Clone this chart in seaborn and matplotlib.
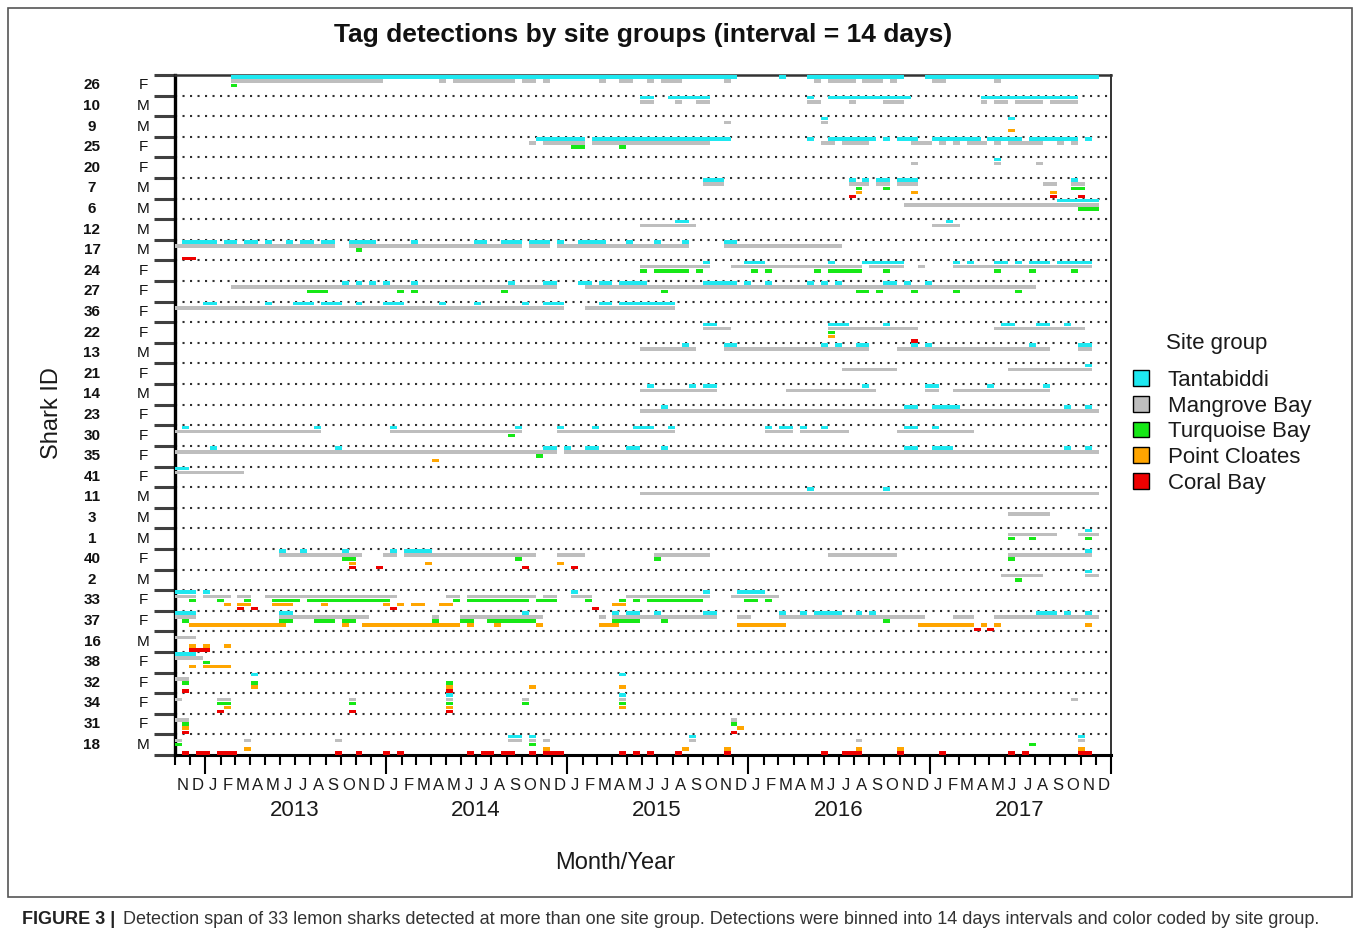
import numpy as np
import pandas as pd
import matplotlib
matplotlib.use("Agg")
import matplotlib.pyplot as plt
import matplotlib.dates as mdates
from matplotlib import transforms
from matplotlib.patches import Patch, Rectangle
import seaborn as sns

# ---------------- data ----------------
SHARKS = ["26", "10", "9", "25", "20", "7", "6", "12", "17", "24", "27", "36", "22", "13", "21",
          "14", "23", "30", "35", "41", "11", "3", "1", "40", "2", "33", "37", "16", "38", "32",
          "34", "31", "18"]
SEX = ["F", "M", "M", "F", "F", "M", "M", "M", "M", "F", "F", "F", "F", "M", "F",
       "M", "F", "F", "F", "F", "M", "M", "M", "F", "M", "F", "F", "M", "F", "F",
       "F", "F", "M"]
SITES = ["Tantabiddi", "Mangrove Bay", "Turquoise Bay", "Point Cloates", "Coral Bay"]
COLORS = ["#1EE8F0", "#BEBEBE", "#16E816", "#FFA500", "#EE0000"]
MONTH_LETTERS = ["N", "D", "J", "F", "M", "A", "M", "J", "J", "A", "S", "O"] * 5 + ["N", "D"]
YEARS = [2013, 2014, 2015, 2016, 2017]

# detections: 14-day bin runs ("a-b" inclusive) counted from 1 Nov 2012
TANTABIDDI = {
    "26": "8-80 87 91-104 108-132", "10": "67-68 71-76 91 94-105 116-129", "9": "93 120",
    "25": "52-58 60-79 91 94-100 102 104-106 109-115 117-121 123-129 131", "20": "118",
    "7": "76-78 97 99 101-102 104-106 129", "6": "127-132", "12": "72-73 111",
    "17": "1-5 7-8 10-11 13 16 18-19 21-22 25-28 34 43-44 47-49 51-53 55 58-61 65 69 73 79-80",
    "24": "76 82-84 94 99-104 112 114 118-119 121 123-125 127-131",
    "27": "24 26 28 30 34 48 53-54 58-59 61-62 64-67 76-80 82 85 91 93 95 102-103 105 108",
    "36": "4-5 13 17-19 21-23 26 30-32 38 43 50 53-55 61-62 64-71",
    "22": "76-77 94-96 102 119-120 124-125 128", "13": "73 79-80 93 95 98-99 106 108 123 130-131",
    "21": "131", "14": "68 74 76-77 99 108-109 117 125", "23": "70 105-106 109-112 128 131",
    "30": "1 20 31 49 55 60 66-68 71 85 87-88 90 93 105-106 109",
    "35": "5 23 53-54 56 59-60 65-66 70 105-106 109-111 128 131", "41": "0-1", "11": "91 102",
    "1": "131", "40": "15 18 24 31 33-36 131", "2": "131", "33": "0-2 4 57 76 81-84",
    "37": "0-2 15-16 50 63 65-66 69 76-77 87 90 92-95 98 100 124-126 128 131",
    "38": "0-2", "32": "11 64", "34": "39 64", "18": "48-49 51 74 130",
}
MANGROVE = {
    "26": "8-29 38 40-48 50-51 53 61 64-65 68 70-72 79 92 94-97 99-101 103 109-110 118",
    "10": "67-68 72 75-76 91-92 97 102-104 116 118-119 121-124 126-129", "9": "79 93",
    "25": "51 53-58 60-76 93-94 96-99 106-108 110 112 114-116 118 120-124 127 129",
    "20": "106 118 124", "7": "76-78 97-99 101-102 104-106 125-126 129-130", "6": "105-132",
    "12": "67-74 109-112", "17": "0-22 25-49 51-53 55-73 79-95",
    "24": "67-76 80-98 100-104 107 112-131", "27": "8-54 59-123", "36": "0-55 59-71",
    "22": "76-79 94-106 118-130", "13": "67-74 79-99 104-125 130-131", "21": "96-103 120-131",
    "14": "67-77 88-100 108-109 112-125", "23": "67-132",
    "30": "0-20 31-49 55-71 85-88 90-96 104-114", "35": "0-54 56-132", "41": "0-9",
    "11": "67-132", "3": "120-125", "1": "120-126 130-132",
    "40": "15-26 30-31 33-51 55-58 69-76 94-103 120-131", "2": "119-124 131-132",
    "33": "0-2 4-7 9-10 13-31 39-40 42-51 53-54 57-59 65-76 80-86",
    "37": "0-2 15-27 37 41-52 61 63-77 81-82 87-107 112-114 118-132",
    "16": "0-2", "38": "0-3", "32": "0-1", "34": "0 6-7 25 39 50 64 129", "31": "0-1 80",
    "18": "0 10 23 48-49 51 53 74 98 130",
}
TURQUOISE = {
    "26": "8", "25": "57-58 64", "7": "98 102 129-130", "6": "130-132", "17": "26",
    "24": "67 69-73 75 83 85 92 94-98 102 118 123 129",
    "27": "19-21 32 34 47 70 98-99 101 106 112 121", "22": "94", "30": "48", "35": "52",
    "1": "120 123 131", "40": "24-25 49 69 120", "2": "121",
    "33": "2 6 10 14-17 19-30 40 42-50 52-54 59 64 66 68-75 82-83 85",
    "37": "1 15-16 20-22 24-25 37 41-42 45-51 63-66 70 102",
    "38": "4", "32": "1 11 39", "34": "6-7 25 39 50 64", "31": "1 80", "18": "0 51 123",
}
CLOATES = {
    "9": "120", "7": "98 106 126", "22": "94", "35": "37", "40": "25 36 55",
    "33": "7 9-10 14-16 21 30 32 34-35 38-39 63-64",
    "37": "2-15 24 27-40 42 46 52 61-63 81-87 107-114 116 118 131",
    "16": "2 4 7", "38": "2 4-7", "32": "11 39 51 64", "34": "7 39 64", "31": "1 81",
    "18": "10 53 73 79 98 104 130",
}
CORAL = {
    "7": "97 126 130", "17": "1-2", "22": "106", "40": "25 29 50 57", "33": "9 11 31 60",
    "37": "115 117", "16": "2-4", "32": "1 39", "34": "6 25 39", "31": "1 80",
    "18": "1 3-4 6-8 23 26 30 32 42 44-45 47-48 51 53-55 64 66 68 72 79 93 96-98 104 110 120 122 130-131",
}

ORIGIN = pd.Timestamp("2012-11-01")
END = pd.Timestamp("2018-01-01")
BIN_DAYS = 14


def parse_runs(text):
    for tok in text.split():
        if "-" in tok:
            a, b = tok.split("-")
        else:
            a = b = tok
        yield int(a), int(b)


records = []
for level, (site, table) in enumerate(zip(SITES, [TANTABIDDI, MANGROVE, TURQUOISE, CLOATES, CORAL])):
    for shark, text in table.items():
        for a, b in parse_runs(text):
            records.append({
                "shark": shark, "site": site, "level": level,
                "start": ORIGIN + pd.Timedelta(days=BIN_DAYS * a),
                "end": ORIGIN + pd.Timedelta(days=BIN_DAYS * (b + 1)),
            })
df = pd.DataFrame(records)
row_of = {s: i for i, s in enumerate(SHARKS)}
df["row"] = df["shark"].map(row_of)
df["y"] = df["row"] + 0.1 + 0.2 * df["level"]
df["x0"] = mdates.date2num(df["start"])
df["w"] = mdates.date2num(df["end"]) - df["x0"]

# ---------------- figure ----------------
sns.set_theme(style="white")
plt.rcParams["font.family"] = ["Liberation Sans", "DejaVu Sans"]

W, H = 1355, 941
fig = plt.figure(figsize=(W / 100, H / 100), dpi=100)
fig.patch.set_facecolor("white")


def fx(px):
    return px / W


def fy(py):
    return 1 - py / H


ax = fig.add_axes([fx(175), fy(755), fx(1111) - fx(175), fy(75) - fy(755)])

palette = dict(zip(SITES, COLORS))
for site in SITES:
    sub = df[df["site"] == site]
    ax.barh(sub["y"], sub["w"], left=sub["x0"], height=0.17,
            color=palette[site], linewidth=0, zorder=3)

n = len(SHARKS)
for i in range(1, n):
    ax.axhline(i, color="#303030", linestyle=(0, (1.0, 2.6)), linewidth=1.5, zorder=2)

ax.set_xlim(mdates.date2num(ORIGIN), mdates.date2num(END))
ax.set_ylim(n, 0)

# y ticks at band boundaries
ax.set_yticks(np.arange(0, n + 1))
ax.set_yticklabels([])
ax.tick_params(axis="y", which="major", left=True, length=15, width=2.2, color="#404040")

# x ticks: monthly minor, yearly major
ax.xaxis.set_major_locator(mdates.YearLocator())
ax.xaxis.set_minor_locator(mdates.MonthLocator())
ax.xaxis.set_major_formatter(plt.NullFormatter())
ax.xaxis.set_minor_formatter(plt.NullFormatter())
ax.tick_params(axis="x", which="major", bottom=True, length=14, width=1.5, color="black")
ax.tick_params(axis="x", which="minor", bottom=True, length=7.5, width=1.5, color="black")

for side, lw in [("left", 2.4), ("bottom", 2.2), ("top", 1.8), ("right", 1.4)]:
    ax.spines[side].set_visible(True)
    ax.spines[side].set_linewidth(lw)
    ax.spines[side].set_color("black" if side in ("left", "bottom") else "#333333")
ax.grid(False)

# shark id / sex labels
trans_y = transforms.blended_transform_factory(fig.transFigure, ax.transData)
for i, (sid, sx) in enumerate(zip(SHARKS, SEX)):
    ax.text(fx(92), i + 0.5, sid, transform=trans_y, ha="center", va="center",
            fontsize=11, fontweight="bold", color="#111111")
    ax.text(fx(143), i + 0.5, sx, transform=trans_y, ha="center", va="center",
            fontsize=11, color="#111111")

# month letters and year labels
trans_x = transforms.blended_transform_factory(ax.transData, fig.transFigure)
month_starts = pd.date_range(ORIGIN, END, freq="MS")
for k, letter in enumerate(MONTH_LETTERS):
    mid = mdates.date2num(month_starts[k]) + (mdates.date2num(month_starts[k + 1]) - mdates.date2num(month_starts[k])) / 2
    ax.text(mid, fy(785), letter, transform=trans_x, ha="center", va="center",
            fontsize=12, color="#1a1a1a")
for yr in YEARS:
    ax.text(mdates.date2num(pd.Timestamp(f"{yr}-07-01")), fy(810), str(yr), transform=trans_x,
            ha="center", va="center", fontsize=16, color="#1a1a1a")

fig.text(fx(615), fy(863), "Month/Year", ha="center", va="center", fontsize=17, color="#1a1a1a")
fig.text(fx(52), fy(413), "Shark ID", ha="center", va="center", rotation=90, fontsize=17, color="#1a1a1a")
fig.text(fx(643), fy(35), "Tag detections by site groups (interval = 14 days)",
         ha="center", va="center", fontsize=19, fontweight="bold", color="#111111")

# legend
fig.text(fx(1217), fy(343), "Site group", ha="center", va="center", fontsize=16, color="#1a1a1a")
handles = [Patch(facecolor=c, edgecolor="black", linewidth=1.0, label=s) for s, c in zip(SITES, COLORS)]
leg = fig.legend(handles=handles, loc="upper left",
                 bbox_to_anchor=(fx(1124), fy(361)), frameon=False, fontsize=16,
                 handlelength=0.72, handleheight=0.72,
                 handletextpad=0.85, labelspacing=0.21, borderaxespad=0)
for t in leg.get_texts():
    t.set_color("#1a1a1a")

# outer frame and caption
fig.add_artist(Rectangle((fx(8), fy(897)), fx(1352) - fx(8), fy(8) - fy(897), transform=fig.transFigure,
                         fill=False, edgecolor="#555555", linewidth=1.2))
fig.text(fx(22), fy(920), "FIGURE 3 |", ha="left", va="center", fontsize=13,
         fontweight="bold", color="#222222")
fig.text(fx(123), fy(920), "Detection span of 33 lemon sharks detected at more than one site group. "
         "Detections were binned into 14 days intervals and color coded by site group.",
         ha="left", va="center", fontsize=13, color="#333333")

fig.savefig("out.png", dpi=100, facecolor="white")
